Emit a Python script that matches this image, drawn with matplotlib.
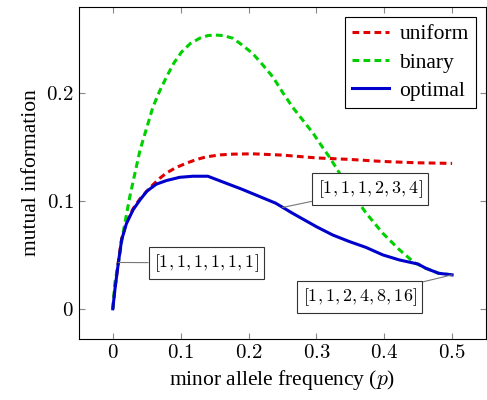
import numpy as np
import matplotlib
matplotlib.use("Agg")
from matplotlib import pyplot as plt
from matplotlib.ticker import FuncFormatter

plt.rcParams["font.family"] = ["Liberation Serif", "DejaVu Serif"]
plt.rcParams["mathtext.fontset"] = "cm"

# minor allele frequency p
p_uniform = [0.0, 0.003, 0.008, 0.013, 0.02, 0.03, 0.04, 0.05, 0.059, 0.069,
             0.079, 0.093, 0.108, 0.123, 0.138, 0.158, 0.177, 0.206, 0.25,
             0.3, 0.349, 0.398, 0.447, 0.5]
uniform = [0.0, 0.018, 0.043, 0.065, 0.080, 0.093, 0.102, 0.109, 0.115, 0.121,
           0.126, 0.131, 0.135, 0.1385, 0.141, 0.1428, 0.1435, 0.1438, 0.1426,
           0.140, 0.1386, 0.1367, 0.1355, 0.1349]

p_binary = [0.0, 0.003, 0.008, 0.015, 0.025, 0.04, 0.05, 0.059, 0.069, 0.079,
            0.09, 0.101, 0.114, 0.128, 0.14, 0.15, 0.163, 0.177, 0.19, 0.206,
            0.22, 0.236, 0.25, 0.265, 0.28, 0.295, 0.31, 0.319, 0.334, 0.353,
            0.373, 0.398, 0.422, 0.444, 0.461, 0.48, 0.5]
binary = [0.0, 0.024, 0.042, 0.070, 0.104, 0.147, 0.168, 0.187, 0.202, 0.215,
          0.228, 0.238, 0.246, 0.251, 0.2535, 0.254, 0.2535, 0.251, 0.245,
          0.237, 0.227, 0.215, 0.201, 0.187, 0.175, 0.163, 0.149, 0.141,
          0.126, 0.107, 0.089, 0.070, 0.055, 0.043, 0.0377, 0.033, 0.0315]

p_optimal = [0.0, 0.003, 0.008, 0.013, 0.02, 0.03, 0.04, 0.05, 0.064, 0.079,
             0.0985, 0.118, 0.14, 0.19, 0.24, 0.265, 0.3, 0.324, 0.349,
             0.373, 0.398, 0.422, 0.45, 0.461, 0.48, 0.5]
optimal = [0.0, 0.0176, 0.042, 0.064, 0.079, 0.092, 0.101, 0.109, 0.1156,
           0.119, 0.122, 0.123, 0.123, 0.111, 0.098, 0.0886, 0.0762, 0.0685,
           0.0623, 0.057, 0.050, 0.0454, 0.0415, 0.0377, 0.033, 0.0315]

# annotations: label, point on curve, box centre
notes = [("$[1,1,1,1,1,1]$", (0.008, 0.043), (0.138, 0.0426)),
         ("$[1,1,1,2,3,4]$", (0.25, 0.094), (0.379, 0.111)),
         ("$[1,1,2,4,8,16]$", (0.5, 0.0315), (0.364, 0.011))]

fig = plt.figure(figsize=(4.87, 4.0), dpi=100)
ax = fig.add_axes([0.162, 0.1525, 0.836, 0.83])

ax.plot(p_uniform, uniform, color="#e00000", lw=2.2, dashes=(2.2, 1.4),
        label="uniform")
ax.plot(p_binary, binary, color="#00d000", lw=2.2, dashes=(2.2, 1.4),
        label="binary")
ax.plot(p_optimal, optimal, color="#0000cc", lw=2.2, label="optimal")

for text, xy, xytext in notes:
    ax.annotate(text, xy=xy, xytext=xytext, ha="center", va="center",
                fontsize=13,
                bbox=dict(boxstyle="square,pad=0.3", fc="white", ec="#333333",
                          lw=0.8),
                arrowprops=dict(arrowstyle="-", color="#777777", lw=0.8,
                                shrinkA=0, shrinkB=0))

ax.set_xlim(-0.05, 0.55)
ax.set_ylim(-0.028, 0.28)
ax.set_xticks([0, 0.1, 0.2, 0.3, 0.4, 0.5])
ax.set_yticks([0, 0.1, 0.2])
fmt = FuncFormatter(lambda v, pos: "$0$" if abs(v) < 1e-9 else "$%.1f$" % v)
ax.xaxis.set_major_formatter(fmt)
ax.yaxis.set_major_formatter(fmt)
ax.tick_params(direction="in", length=4, width=0.8, color="#888888",
               top=True, right=True, labelsize=15)
for s in ax.spines.values():
    s.set_linewidth(0.8)

ax.set_xlabel("minor allele frequency ($p$)", fontsize=15.5)
ax.set_ylabel("mutual information", fontsize=15.5)

leg = ax.legend(loc="upper right", fontsize=15.5, fancybox=False,
                edgecolor="black", framealpha=1, handlelength=1.7,
                handletextpad=0.5, borderaxespad=0.45, labelspacing=0.38,
                borderpad=0.35)
leg.get_frame().set_linewidth(0.8)

fig.savefig("out.png", dpi=100)
